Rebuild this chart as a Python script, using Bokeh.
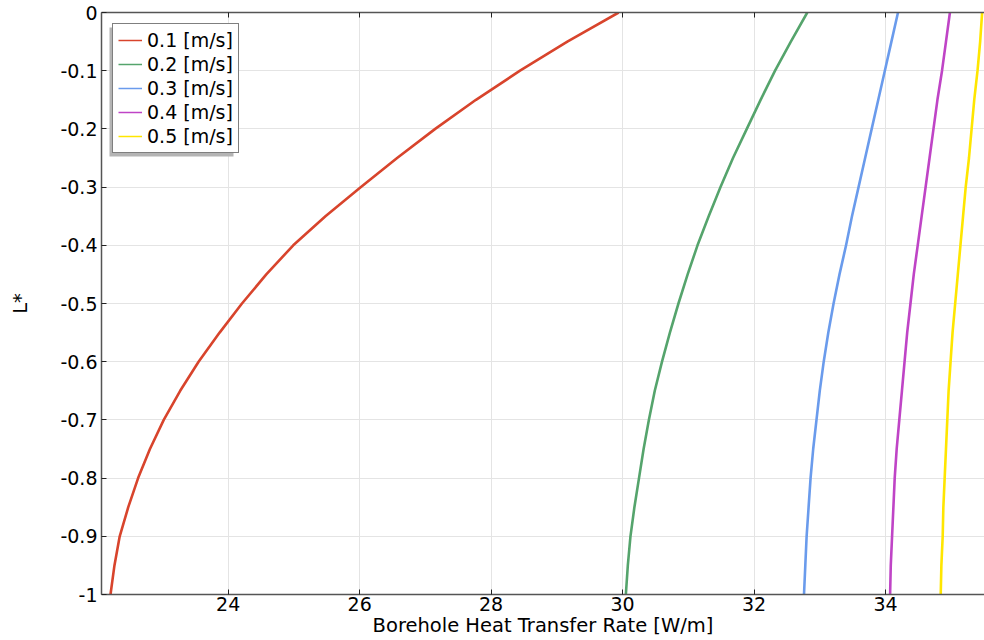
from bokeh.plotting import figure
from bokeh.models import (Range1d, FixedTicker, LinearAxis, Legend, LegendItem,
                          CustomJSTickFormatter, BoxAnnotation)
from bokeh.embed import file_html
from bokeh.resources import INLINE

# ---- data ----
L_star = [0, -0.05, -0.1, -0.15, -0.2, -0.25, -0.3, -0.35, -0.4, -0.45, -0.5,
          -0.55, -0.6, -0.65, -0.7, -0.75, -0.8, -0.85, -0.9, -0.95, -1]

q_01 = [29.94, 29.16, 28.44, 27.77, 27.15, 26.57, 26.02, 25.48, 24.99, 24.58, 24.21,
        23.87, 23.55, 23.27, 23.02, 22.81, 22.63, 22.48, 22.35, 22.27, 22.21]
q_02 = [32.81, 32.56, 32.32, 32.10, 31.89, 31.68, 31.49, 31.31, 31.14, 30.99, 30.85,
        30.72, 30.60, 30.49, 30.40, 30.32, 30.25, 30.18, 30.12, 30.08, 30.05]
q_03 = [34.19, 34.09, 33.99, 33.89, 33.79, 33.69, 33.59, 33.49, 33.40, 33.30, 33.21,
        33.13, 33.06, 33.00, 32.95, 32.90, 32.86, 32.83, 32.80, 32.78, 32.76]
q_04 = [34.98, 34.92, 34.86, 34.79, 34.73, 34.67, 34.61, 34.55, 34.49, 34.43, 34.38,
        34.33, 34.29, 34.25, 34.21, 34.17, 34.14, 34.12, 34.10, 34.08, 34.07]
q_05 = [35.47, 35.44, 35.40, 35.35, 35.31, 35.27, 35.22, 35.18, 35.14, 35.10, 35.06,
        35.02, 34.99, 34.96, 34.94, 34.92, 34.90, 34.88, 34.87, 34.85, 34.84]

labels = ["0.1 [m/s]", "0.2 [m/s]", "0.3 [m/s]", "0.4 [m/s]", "0.5 [m/s]"]
colors = ["#d8442c", "#55a46c", "#6a9bec", "#bf44c6", "#ffe600"]

x_ticks = [24, 26, 28, 30, 32, 34]
y_ticks = [0, -0.1, -0.2, -0.3, -0.4, -0.5, -0.6, -0.7, -0.8, -0.9, -1]

FONT = "DejaVu Sans"
AXIS_COLOR = "#555555"

p = figure(width=984, height=640, output_backend="svg", toolbar_location=None,
           x_range=Range1d(22.073, 35.506), y_range=Range1d(-1, 0),
           min_border_left=101, min_border_right=0, min_border_top=12, min_border_bottom=46)
p.outline_line_color = None
p.background_fill_color = "white"

series = [q_01, q_02, q_03, q_04, q_05]
items = []
nan = float("nan")
for xs, col, lab in zip(series, colors, labels):
    p.line(xs, L_star, line_color=col, line_width=2.6, line_join="round")
    dummy = p.line(x=[nan], y=[nan], line_color=col, line_width=1.5)
    items.append(LegendItem(label=lab, renderers=[dummy]))

# axes
for ax in (p.xaxis[0], p.yaxis[0]):
    ax.major_tick_in = 5
    ax.major_tick_out = 0
    ax.minor_tick_in = 0
    ax.minor_tick_out = 0
    ax.axis_line_color = AXIS_COLOR
    ax.axis_line_width = 1.5
    ax.major_tick_line_color = "#222222"
    ax.major_label_text_font = FONT
    ax.major_label_text_font_size = "19px"
    ax.major_label_text_color = "black"
    ax.axis_label_text_font = FONT
    ax.axis_label_text_font_size = "19.5px"
    ax.axis_label_text_font_style = "normal"
    ax.axis_label_text_color = "black"

p.xaxis.ticker = FixedTicker(ticks=x_ticks)
p.yaxis.ticker = FixedTicker(ticks=y_ticks)
p.yaxis.formatter = CustomJSTickFormatter(code="return tick.toFixed(1).replace(/\\.0$/, '').replace(/^-0$/, '0');")
p.xaxis.axis_label = "Borehole Heat Transfer Rate [W/m]"
p.yaxis.axis_label = "L*"
p.xaxis.major_label_standoff = 2
p.xaxis.axis_label_standoff = 0
p.yaxis.major_label_standoff = 4
p.yaxis.axis_label_standoff = 25

top_ax = LinearAxis(ticker=FixedTicker(ticks=x_ticks),
                    formatter=CustomJSTickFormatter(code="return '';"),
                    major_tick_in=5, major_tick_out=0, minor_tick_in=0, minor_tick_out=0,
                    axis_line_color=AXIS_COLOR, axis_line_width=1.5,
                    major_tick_line_color="#222222", major_label_standoff=0)
p.add_layout(top_ax, "above")

p.xgrid.ticker = FixedTicker(ticks=x_ticks)
p.ygrid.ticker = FixedTicker(ticks=y_ticks)
p.grid.grid_line_color = "#e4e4e4"
p.grid.grid_line_width = 1

# legend shadow (screen units relative to the plot frame, y measured upward)
shadow = BoxAnnotation(left=8, right=132, top=567, bottom=438,
                       left_units="screen", right_units="screen",
                       top_units="screen", bottom_units="screen",
                       fill_color="#b4b4b4", fill_alpha=1.0, line_color=None, level="overlay")
p.add_layout(shadow)

legend = Legend(items=items, location="top_left", margin=11,
                label_text_font=FONT, label_text_font_size="19px", label_text_color="black",
                label_height=20, glyph_height=20, glyph_width=24, label_standoff=5,
                spacing=2, padding=5, border_line_color="black", border_line_width=1,
                background_fill_color="white", background_fill_alpha=1.0)
p.add_layout(legend)

open("out.html", "w").write(file_html(p, INLINE))
